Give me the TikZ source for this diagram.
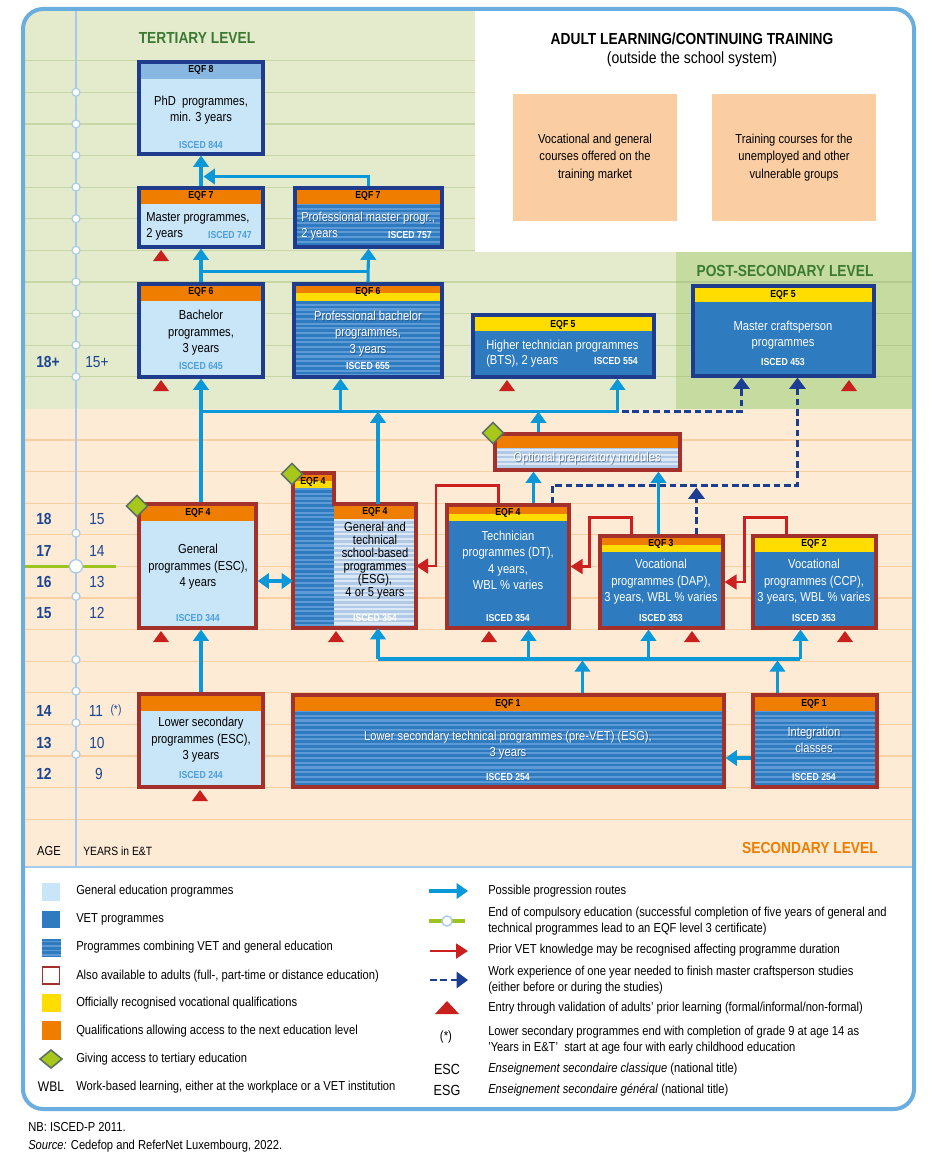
\documentclass[tikz,border=0pt]{standalone}
\usepackage{fontspec}
\setmainfont{Liberation Sans}[FakeStretch=0.86]
\usetikzlibrary{arrows.meta,calc,fit}
\definecolor{cFrame}{HTML}{6AAEE0}
\definecolor{cTer}{HTML}{E3EBCC}
\definecolor{cPost}{HTML}{C5DBA0}
\definecolor{cSec}{HTML}{FDEBD6}
\definecolor{cGridT}{HTML}{C6D6A4}
\definecolor{cGridP}{HTML}{B2CA8C}
\definecolor{cGridS}{HTML}{F8D0A2}
\definecolor{cAge}{HTML}{A9CBEA}
\definecolor{cGreen}{HTML}{9CC31E}
\definecolor{cOr}{HTML}{EF7D00}
\definecolor{cYel}{HTML}{FFDD00}
\definecolor{cGen}{HTML}{C9E5F8}
\definecolor{cPhdH}{HTML}{88B8E2}
\definecolor{cVet}{HTML}{2F7BBF}
\definecolor{cVetS}{HTML}{5E9BD6}
\definecolor{cLt}{HTML}{AFC9E6}
\definecolor{cLtS}{HTML}{DDE8F5}
\definecolor{cNavy}{HTML}{1F3C8C}
\definecolor{cRedB}{HTML}{A3302B}
\definecolor{cArrow}{HTML}{0B98D8}
\definecolor{cRedA}{HTML}{CC1F1F}
\definecolor{cWork}{HTML}{1B3E93}
\definecolor{cTri}{HTML}{C8201C}
\definecolor{cDiam}{HTML}{A7C81B}
\definecolor{cDiamB}{HTML}{5D7263}
\definecolor{cIsc}{HTML}{4B9FDE}
\definecolor{cAgeT}{HTML}{1D4592}
\definecolor{cTitleG}{HTML}{3C7A34}
\definecolor{cPeach}{HTML}{FBCDA2}
\definecolor{cShd}{HTML}{1A3560}
\newcommand\bandfill[3]{\fill[#1] ($(path picture bounding box.north west)+(0,#2)$) rectangle ($(path picture bounding box.north east)+(0,#3)$);}
\newcommand\solidbody[1]{\fill[#1] (path picture bounding box.south west) rectangle (path picture bounding box.north east);}
\newcommand\stripebody[2]{\solidbody{#1}\foreach \k in {0,...,40}{\draw[#2,line width=1.6pt] ($(path picture bounding box.north west)+(0,{2+\k*4.7})$) -- ($(path picture bounding box.north east)+(0,{2+\k*4.7})$);}}
\newcommand\rtri[2]{\fill[cTri] ({#1-8},{#2+11}) -- (#1,#2) -- ({#1+8},{#2+11}) -- cycle;}
\newcommand\diam[2]{\filldraw[fill=cDiam,draw=cDiamB,line width=1.2pt] ({#1-10.5},#2) -- (#1,{#2-10.5}) -- ({#1+10.5},#2) -- (#1,{#2+10.5}) -- cycle;}
\begin{document}
\begin{tikzpicture}[x=0.75pt,y=-0.75pt,
  pbx/.style={inner sep=0pt, line width=2.3pt},
  navyb/.style={pbx, draw=cNavy},
  redb/.style={pbx, draw=cRedB},
  tx/.style={inner sep=0pt, align=center, font=\fontsize{9.75}{12.4}\selectfont},
  txw/.style={tx, text=white},
  txs/.style={tx, text=cShd, opacity=0.55},
  eqf/.style={inner sep=0pt, font=\bfseries\fontsize{7.6}{9}\selectfont},
  isc/.style={inner sep=0pt, font=\bfseries\fontsize{7.6}{9}\selectfont, text=cIsc},
  iscw/.style={isc, text=white},
  agen/.style={inner sep=0pt, anchor=west, font=\bfseries\fontsize{12}{12}\selectfont, text=cAgeT},
  yrn/.style={inner sep=0pt, font=\fontsize{12}{12}\selectfont, text=cAgeT},
  ttl/.style={inner sep=0pt, font=\bfseries\fontsize{12}{12}\selectfont},
  leg/.style={inner sep=0pt, anchor=west, align=left, font=\fontsize{9.75}{12.5}\selectfont},
  prog/.style={draw=cArrow, line width=2.3pt, -{Triangle[width=11.5pt,length=8.5pt]}},
  progline/.style={draw=cArrow, line width=2.3pt},
  prior/.style={draw=cRedA, line width=2.1pt, -{Triangle[width=11pt,length=9pt]}},
  work/.style={draw=cWork, line width=2.2pt, dash pattern=on 5pt off 2.8pt, -{Triangle[width=12pt,length=8.5pt]}}
]
\useasboundingbox (0,0) rectangle (935,1163);
\fill[white] (0,0) rectangle (935,1163);
% ---------- backgrounds ----------
\begin{scope}
\clip[rounded corners=15pt] (23,9) rectangle (914,1109);
\fill[cTer] (23,9) rectangle (475,409);
\fill[cTer] (475,252) rectangle (676,409);
\fill[cPost] (676,252) rectangle (914,409);
\fill[cSec] (23,409) rectangle (914,867);
\foreach \k in {0,...,6}{\draw[cGridT,line width=0.9pt] (23,{60.7+31.6*\k}) -- (475,{60.7+31.6*\k});}
\foreach \k in {7,...,10}{\draw[cGridT,line width=0.9pt] (23,{60.7+31.6*\k}) -- (676,{60.7+31.6*\k});
  \draw[cGridP,line width=0.9pt] (676,{60.7+31.6*\k}) -- (914,{60.7+31.6*\k});}
\foreach \k in {12,...,24}{\draw[cGridS,line width=0.9pt] (23,{60.7+31.6*\k}) -- (914,{60.7+31.6*\k});}
\draw[cAge,line width=1.5pt] (23,867) -- (914,867);
\draw[cAge,line width=1.3pt] (76,9) -- (76,867);
\draw[cGreen,line width=2.3pt] (23,566.3) -- (116,566.3);
\foreach \k in {1,...,10}{\filldraw[fill=white,draw=cAge,line width=0.9pt] (76,{60.7+31.6*\k}) circle (3pt);}
\foreach \k in {15,17,19,20,21,22}{\filldraw[fill=white,draw=cAge,line width=0.9pt] (76,{59.2+31.6*\k}) circle (3pt);}
\filldraw[fill=white,draw=cAge,line width=1pt] (76,566.3) circle (5pt);
\end{scope}
\draw[cFrame,line width=3pt,rounded corners=15pt] (23,9) rectangle (914,1109);

% ---------- titles ----------
\node[ttl, text=cTitleG] (tTer) at (197,38) {TERTIARY LEVEL};
\node[ttl] (tAdult) at (692,39) {ADULT LEARNING/CONTINUING TRAINING};
\node[inner sep=0pt, font=\fontsize{12.2}{12.2}\selectfont] (tAdult2) at (692,59) {(outside the school system)};
\node[ttl, text=cTitleG] (tPost) at (785,271) {POST-SECONDARY LEVEL};
\node[ttl, text=cOr, anchor=east] (tSec) at (878,848) {SECONDARY LEVEL};

% ---------- adult boxes ----------
\node[pbx, fill=cPeach, fit={(513,94)(677,221)}] (ad1) {};
\node[pbx, fill=cPeach, fit={(712,94)(876,221)}] (ad2) {};
\node[tx, font=\fontsize{9.75}{13}\selectfont] (ad1t) at (ad1) {Vocational and general\\courses offered on the\\training market};
\node[tx, font=\fontsize{9.75}{13}\selectfont] (ad2t) at (ad2) {Training courses for the\\unemployed and other\\vulnerable groups};

% ---------- ages ----------
\node[agen] (a18p) at (36,362) {18+};
\node[yrn] (y15p) at (97,362) {15+};
\node[agen] (a18) at (36,519) {18};
\node[yrn] (y15) at (97,519) {15};
\node[agen] (a17) at (36,551) {17};
\node[yrn] (y14) at (97,551) {14};
\node[agen] (a16) at (36,582) {16};
\node[yrn] (y13) at (97,582) {13};
\node[agen] (a15) at (36,613) {15};
\node[yrn] (y12) at (97,613) {12};
\node[agen] (a14) at (36,711) {14};
\node[yrn] (y11) at (96,711) {11};
\node[inner sep=0pt, font=\fontsize{9}{9}\selectfont, text=cAgeT] (ystar) at (116,710) {(*)};
\node[agen] (a13) at (36,743) {13};
\node[yrn] (y10) at (97,743) {10};
\node[agen] (a12) at (36,774) {12};
\node[yrn] (y9) at (99,774) {9};
\node[inner sep=0pt, font=\fontsize{9.75}{10}\selectfont] (lage) at (49,851) {AGE};
\node[inner sep=0pt, anchor=west, font=\fontsize{9}{10}\selectfont] (lyrs) at (83,851) {YEARS in E\&T};

% ---------- boxes ----------
\node[navyb, fit={(139,62)(263,154)}, path picture={\solidbody{cGen}\bandfill{cPhdH}{0}{17}}] (phd) {};
\node[navyb, fit={(139,188)(263,247)}, path picture={\solidbody{cGen}\bandfill{cOr}{0}{16}}] (mas) {};
\node[navyb, fit={(295,188)(442,247)}, path picture={\stripebody{cVet}{cVetS}\bandfill{cOr}{0}{16}}] (pm) {};
\node[navyb, fit={(139,284)(263,377)}, path picture={\solidbody{cGen}\bandfill{cOr}{0}{17}}] (bach) {};
\node[navyb, fit={(294,284)(442,377)}, path picture={\stripebody{cVet}{cVetS}\bandfill{cOr}{0}{9}\bandfill{cYel}{9}{17}}] (pb) {};
\node[navyb, fit={(473,315)(654,377)}, path picture={\solidbody{cVet}\bandfill{cYel}{1}{16}}] (bts) {};
\node[navyb, fit={(693,286)(874,376)}, path picture={\solidbody{cVet}\bandfill{cYel}{1}{16}}] (mc) {};
\node[redb, fit={(139,504)(256,628)}, path picture={\solidbody{cGen}\bandfill{cOr}{0}{17}}] (esc) {};
\node[pbx, outer sep=0pt, fit={(293,473)(334,628)}, path picture={\stripebody{cVet}{cVetS}\bandfill{cOr}{0}{8}\bandfill{cYel}{8}{15}}] (esgL) {};
\node[pbx, outer sep=0pt, fit={(334,504)(416,628)}, path picture={\stripebody{cLt}{cLtS}\bandfill{cOr}{0}{15}}] (esg) {};
\draw[cRedB, line width=2.3pt] (esgL.north west) -- (esgL.north east) -- (esg.north west) -- (esg.north east) -- (esg.south east) -- (esgL.south west) -- cycle;
\node[redb, fit={(495,434)(680,470)}, path picture={\stripebody{cLt}{cLtS}\bandfill{cOr}{0}{14}}] (prep) {};
\node[redb, fit={(447,505)(569,628)}, path picture={\solidbody{cVet}\bandfill{cOr}{0}{9}\bandfill{cYel}{9}{16}}] (tech) {};
\node[redb, fit={(600,536)(723,628)}, path picture={\solidbody{cVet}\bandfill{cOr}{0}{9}\bandfill{cYel}{9}{16}}] (dap) {};
\node[redb, fit={(753,536)(876,628)}, path picture={\solidbody{cVet}\bandfill{cYel}{0}{16}}] (ccp) {};
\node[redb, fit={(139,694)(263,787)}, path picture={\solidbody{cGen}\bandfill{cOr}{0}{17}}] (ls) {};
\node[redb, fit={(293,695)(724,787)}, path picture={\stripebody{cVet}{cVetS}\bandfill{cOr}{0}{16}}] (pv) {};
\node[redb, fit={(753,695)(877,787)}, path picture={\stripebody{cVet}{cVetS}\bandfill{cOr}{0}{16}}] (int) {};

% ---------- box texts ----------
\node[eqf] (phdE) at (201,70) {EQF 8};
\node[tx] (phdT) at (201,110) {PhD~ programmes,\\min. 3 years};
\node[isc] (phdI) at (201,145) {ISCED 844};
\node[eqf] (masE) at (201,196) {EQF 7};
\node[tx, anchor=west] (masT1) at (146,218) {Master programmes,};
\node[tx, anchor=west] (masT2) at (146,234) {2 years};
\node[isc, anchor=east] (masI) at (252,235) {ISCED 747};
\node[eqf] (pmE) at (368,196) {EQF 7};
\node[txs, anchor=west] (pmS1) at (301.8,218.8) {Professional master progr.,};
\node[txs, anchor=west] (pmS2) at (301.8,234.8) {2 years};
\node[txw, anchor=west] (pmT1) at (301,218) {Professional master progr.,};
\node[txw, anchor=west] (pmT2) at (301,234) {2 years};
\node[iscw, anchor=east] (pmI) at (432,235) {ISCED 757};
\node[eqf] (bachE) at (201,292) {EQF 6};
\node[tx] (bachT) at (201,333) {Bachelor\\programmes,\\3 years};
\node[isc] (bachI) at (201,366) {ISCED 645};
\node[eqf] (pbE) at (368,292) {EQF 6};
\node[txs] (pbS) at (368.8,334.3) {Professional bachelor\\programmes,\\3 years};
\node[txw] (pbT) at (368,333.5) {Professional bachelor\\programmes,\\3 years};
\node[iscw] (pbI) at (368,366) {ISCED 655};
\node[eqf] (btsE) at (563,325) {EQF 5};
\node[txw, anchor=west] (btsT1) at (486,346) {Higher technician programmes};
\node[txw, anchor=west] (btsT2) at (486,361) {(BTS), 2 years};
\node[iscw, anchor=east] (btsI) at (638,361) {ISCED 554};
\node[eqf] (mcE) at (783,295) {EQF 5};
\node[txw] (mcT) at (783,335) {Master craftsperson\\programmes};
\node[iscw] (mcI) at (783,362) {ISCED 453};
\node[eqf] (escE) at (198,513) {EQF 4};
\node[tx] (escT) at (198,567) {General\\programmes (ESC),\\4 years};
\node[isc] (escI) at (198,618) {ISCED 344};
\node[eqf] (esgLE) at (313,482) {EQF 4};
\node[eqf] (esgE) at (375,512) {EQF 4};
\node[tx, font=\fontsize{9.75}{9.8}\selectfont] (esgT) at (375,560.5) {General and\\technical\\school-based\\programmes\\(ESG),\\4 or 5 years};
\node[iscw] (esgI) at (375,618) {ISCED 354};
\node[txs] (prepS) at (588,459) {Optional preparatory modules};
\node[txw] (prepT) at (587,458) {Optional preparatory modules};
\node[eqf] (techE) at (508,513) {EQF 4};
\node[txw] (techT) at (508,560.5) {Technician\\programmes (DT),\\4 years,\\WBL \% varies};
\node[iscw] (techI) at (508,618) {ISCED 354};
\node[eqf] (dapE) at (661,544) {EQF 3};
\node[txw] (dapT) at (661,582) {Vocational\\programmes (DAP),\\3 years, WBL \% varies};
\node[iscw] (dapI) at (661,618) {ISCED 353};
\node[eqf] (ccpE) at (814,544) {EQF 2};
\node[txw] (ccpT) at (814,582) {Vocational\\programmes (CCP),\\3 years, WBL \% varies};
\node[iscw] (ccpI) at (814,618) {ISCED 353};
\node[tx] (lsT) at (201,740) {Lower secondary\\programmes (ESC),\\3 years};
\node[isc] (lsI) at (201,775) {ISCED 244};
\node[eqf] (pvE) at (508,704) {EQF 1};
\node[txs] (pvS) at (508.8,745.8) {Lower secondary technical programmes (pre-VET) (ESG),\\3 years};
\node[txw] (pvT) at (508,745) {Lower secondary technical programmes (pre-VET) (ESG),\\3 years};
\node[iscw] (pvI) at (508,777) {ISCED 254};
\node[eqf] (intE) at (814,704) {EQF 1};
\node[txs] (intS) at (814.8,740.8) {Integration\\classes};
\node[txw] (intT) at (814,740) {Integration\\classes};
\node[iscw] (intI) at (814,777) {ISCED 254};

% ---------- coordinates ----------
\coordinate (L1) at ($(bach.south)+(0,33)$);
\coordinate (pbA) at ($(pb.south west)+(48,0)$);
\coordinate (esgA) at ($(esg.north west)+(44,0)$);
\coordinate (esgB) at ($(esg.south west)+(44,0)$);
\coordinate (prepA) at ($(prep.north west)+(45,0)$);
\coordinate (techA) at ($(tech.north west)+(88,0)$);
\coordinate (dapA) at ($(dap.north west)+(60,0)$);
\coordinate (L2) at ($(esg.south west)+(44,31)$);
\coordinate (techB) at ($(tech.south west)+(83,0)$);
\coordinate (dapB) at ($(dap.south west)+(50,0)$);
\coordinate (ccpB) at ($(ccp.south west)+(49,0)$);
\coordinate (pvA) at ($(pv.north west)+(291,0)$);
\coordinate (intA) at ($(int.north west)+(26,0)$);
\coordinate (dbl) at ($(esc.east)+(0,15)$);
\coordinate (r1) at ($(tech.north west)+(53,0)$);
\coordinate (r2) at ($(dap.north west)+(33,0)$);
\coordinate (r3) at ($(ccp.north west)+(35,0)$);
\coordinate (d2) at ($(tech.north west)+(107,0)$);
\coordinate (d3) at ($(dap.north west)+(98,0)$);

% ---------- work experience (dashed) ----------
\draw[work] ($(L1)+(421,0)$) -| ($(mc.south west)+(50,0)$);
\draw[work] (d2) -- ++(0,-18) -| ($(mc.south west)+(106,0)$);
\draw[work] (d3) -- ($(d3)+(0,-47)$);

% ---------- progression routes ----------
\draw[prog] (mas.north) -- (phd.south);
\draw[prog] (pm.north) |- ($(phd.south)+(2.5,21)$);
\draw[prog] (bach.north) -- (mas.south);
\draw[prog] (pb.north) -- (pm.south);
\draw[progline] ($(bach.north)+(0,-11)$) -- ($(pb.north)+(0,-11)$);
\draw[prog] (bach.south |- esc.north) -- (bach.south);
\draw[prog] (L1) -| ($(bts.south west)+(146,0)$);
\draw[prog] (pbA |- L1) -- (pbA);
\draw[prog] (esgA) -- (esgA |- L1);
\draw[prog] (prepA) -- (prepA |- L1);
\draw[prog] (techA) -- (techA |- prep.south);
\draw[prog] (dapA) -- (dapA |- prep.south);
\draw[progline] (L2) -- (ccpB |- L2);
\draw[prog] (L2) -- (esgB);
\draw[prog] (techB |- L2) -- (techB);
\draw[prog] (dapB |- L2) -- (dapB);
\draw[prog] (ccpB |- L2) -- (ccpB);
\draw[prog, shorten >=1pt] (pvA) -- (pvA |- L2);
\draw[prog, shorten >=1pt] (intA) -- (intA |- L2);
\draw[prog] (ls.north) -- (ls.north |- esc.south);
\draw[prog] ($(int.west)+(0,17)$) -- ($(pv.east)+(0,17)$);
\draw[prog, {Triangle[width=11.5pt,length=8.5pt]}-{Triangle[width=11.5pt,length=8.5pt]}] (dbl) -- (dbl -| esgL.west);

% ---------- prior VET knowledge ----------
\draw[prior] (r1) -- ++(0,-18) -| ($(esg.east)+(20,0)$) -- (esg.east);
\draw[prior] (r2) -- ++(0,-17) -| ($(tech.east)+(19,0)$) -- (tech.east);
\draw[prior] (r3) -- ++(0,-17) -| ($(dap.east)+(20,0)$) -- (dap.east);

% ---------- validation triangles ----------
\rtri{161}{250}
\rtri{161}{380}
\rtri{507}{380}
\rtri{849}{380}
\rtri{161}{631}
\rtri{336}{631}
\rtri{489}{631}
\rtri{692}{631}
\rtri{845}{631}
\rtri{200}{790}

% ---------- diamonds ----------
\diam{137}{506}
\diam{292}{474}
\diam{493}{433}

% ---------- legend left ----------
\fill[cGen] (42,883) rectangle (60,901);
\fill[cVet] (42,911) rectangle (60,928);
\fill[cVet] (42,939) rectangle (61,957);
\foreach \k in {0,...,3}{\draw[cVetS,line width=1.4pt] (42,{941.5+\k*4.5}) -- (61,{941.5+\k*4.5});}
\draw[cRedB,line width=1.2pt,fill=white] (42.5,967) rectangle (59.5,984);
\fill[cYel] (42,994) rectangle (61,1012);
\fill[cOr] (42,1021) rectangle (61,1040);
\filldraw[fill=cDiam,draw=cDiamB,line width=1.2pt] (40,1059) -- (51,1050) -- (62,1059) -- (51,1068) -- cycle;
\node[inner sep=0pt, font=\fontsize{10.5}{11}\selectfont] (lWBL) at (51,1087) {WBL};
\node[leg] (lg1) at (76,891) {General education programmes};
\node[leg] (lg2) at (76,919) {VET programmes};
\node[leg] (lg3) at (76,947) {Programmes combining VET and general education};
\node[leg] (lg4) at (76,976) {Also available to adults (full-, part-time or distance education)};
\node[leg] (lg5) at (76,1003) {Officially recognised vocational qualifications};
\node[leg] (lg6) at (76,1031) {Qualifications allowing access to the next education level};
\node[leg] (lg7) at (76,1059) {Giving access to tertiary education};
\node[leg] (lg8) at (76,1087) {Work-based learning, either at the workplace or a VET institution};

% ---------- legend right ----------
\coordinate (k1a) at (429,891); \coordinate (k1b) at (468,891);
\draw[prog] (k1a) -- (k1b);
\coordinate (k2a) at (429,921); \coordinate (k2b) at (465,921);
\draw[cGreen,line width=2.3pt] (k2a) -- (k2b);
\filldraw[fill=white,draw=cAge,line width=1pt] (447,921) circle (3.8pt);
\coordinate (k3a) at (430,951); \coordinate (k3b) at (468,951);
\draw[prior] (k3a) -- (k3b);
\coordinate (k4a) at (430,980); \coordinate (k4b) at (468,980);
\draw[work] (k4a) -- (k4b);
\fill[cTri] (435,1014) -- (447,1001) -- (459,1014) -- cycle;
\node[inner sep=0pt, font=\fontsize{10}{10}\selectfont] (lstar) at (446,1037) {(*)};
\node[inner sep=0pt, font=\fontsize{11}{11}\selectfont] (lesc) at (447,1069) {ESC};
\node[inner sep=0pt, font=\fontsize{11}{11}\selectfont] (lesg) at (447,1090) {ESG};
\node[leg] (rg1) at (488,891) {Possible progression routes};
\node[leg] (rg2) at (488,921) {End of compulsory education (successful completion of five years of general and\\technical programmes lead to an EQF level 3 certificate)};
\node[leg] (rg3) at (488,950) {Prior VET knowledge may be recognised affecting programme duration};
\node[leg] (rg4) at (488,980) {Work experience of one year needed to finish master craftsperson studies\\(either before or during the studies)};
\node[leg] (rg5) at (488,1008) {Entry through validation of adults' prior learning (formal/informal/non-formal)};
\node[leg] (rg6) at (488,1040) {Lower secondary programmes end with completion of grade 9 at age 14 as\\'Years in E\&T'~ start at age four with early childhood education};
\node[leg] (rg7) at (488,1069) {\textit{Enseignement secondaire classique} (national title)};
\node[leg] (rg8) at (488,1090) {\textit{Enseignement secondaire général} (national title)};

% ---------- footer ----------
\node[leg] (nb) at (28,1127) {NB: ISCED-P 2011.};
\node[leg] (src) at (28,1146) {\textit{Source:} Cedefop and ReferNet Luxembourg, 2022.};
\end{tikzpicture}
\end{document}
